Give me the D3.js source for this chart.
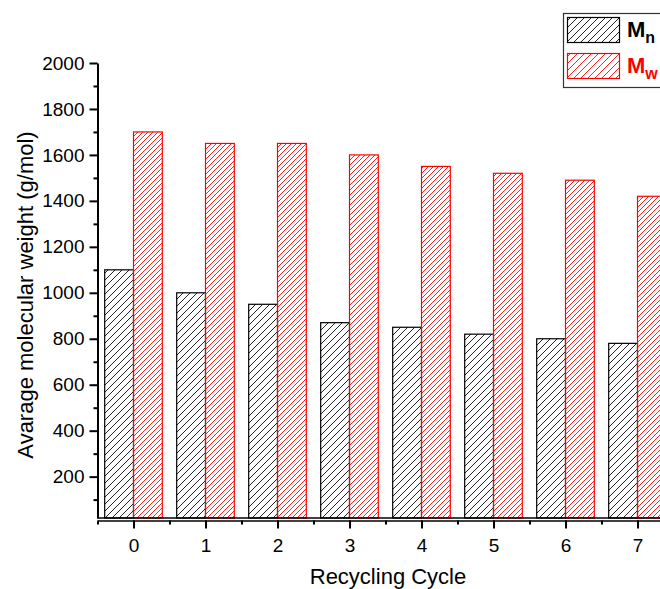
<!DOCTYPE html>
<html>
<head>
<meta charset="utf-8">
<script src="https://cdn.jsdelivr.net/npm/d3@7"></script>
<style>
  body { margin: 0; background: #fff; }
  svg { display: block; font-family: "Liberation Sans", Arial, sans-serif; }
  .axis text { font-size: 19px; fill: #000; }
  .axis path, .axis line { stroke: #000; }
</style>
</head>
<body>
<script>
// data
var cycles = [0, 1, 2, 3, 4, 5, 6, 7];
var mn = [1100, 1000, 950, 870, 850, 820, 800, 780];
var mw = [1700, 1650, 1650, 1600, 1550, 1520, 1490, 1420];
var yTicks = [200, 400, 600, 800, 1000, 1200, 1400, 1600, 1800, 2000];
var yMinor = [100, 300, 500, 700, 900, 1100, 1300, 1500, 1700, 1900];

var width = 660, height = 589;

var x = d3.scaleLinear()
    .domain([-0.5, 7.5])
    .range([97.5, 673.5]);

var y = d3.scaleLinear()
    .domain([20, 2000])
    .range([518, 63]);

var barW = (x(1) - x(0)) * 0.4;

var svg = d3.select("body").append("svg")
    .attr("width", width)
    .attr("height", height);

// hatch patterns
var defs = svg.append("defs");
function hatch(id, color, s) {
    var p = defs.append("pattern")
        .attr("id", id)
        .attr("patternUnits", "userSpaceOnUse")
        .attr("width", s)
        .attr("height", s);
    p.append("path")
        .attr("d", "M0," + s + " L" + s + ",0 M-1,1 L1,-1 M" + (s - 1) + "," + (s + 1) + " L" + (s + 1) + "," + (s - 1))
        .attr("stroke", color)
        .attr("stroke-width", 1);
}
hatch("hatchBlack", "#222", 7);
hatch("hatchRed", "#ff2020", 5);
hatch("hatchBlackL", "#222", 7);
hatch("hatchRedL", "#ff2020", 7);

// bars
svg.append("g").selectAll("rect")
    .data(mn)
    .enter().append("rect")
    .attr("x", function(d, i) { return x(cycles[i]) - barW; })
    .attr("y", function(d) { return y(d); })
    .attr("width", barW)
    .attr("height", function(d) { return y(20) - y(d); })
    .attr("fill", "url(#hatchBlack)")
    .attr("stroke", "#000")
    .attr("stroke-width", 1.2);

svg.append("g").selectAll("rect")
    .data(mw)
    .enter().append("rect")
    .attr("x", function(d, i) { return x(cycles[i]); })
    .attr("y", function(d) { return y(d); })
    .attr("width", barW)
    .attr("height", function(d) { return y(20) - y(d); })
    .attr("fill", "url(#hatchRed)")
    .attr("stroke", "#ff0000")
    .attr("stroke-width", 1.2);

// y axis
var yAxis = svg.append("g")
    .attr("class", "axis")
    .attr("transform", "translate(" + x(-0.5) + ",0)")
    .call(d3.axisLeft(y).tickValues(yTicks).tickFormat(d3.format("d")).tickSize(8).tickSizeOuter(0).tickPadding(5));
yAxis.select(".domain").attr("stroke-width", 2);
yAxis.selectAll(".tick line").attr("stroke-width", 2);

svg.append("g")
    .attr("class", "axis")
    .attr("transform", "translate(" + x(-0.5) + ",0)")
    .call(d3.axisLeft(y).tickValues(yMinor).tickSize(4).tickFormat(""))
    .call(function(g) { g.select(".domain").remove(); })
    .selectAll("line").attr("stroke-width", 2);

// x axis
var xAxis = svg.append("g")
    .attr("class", "axis")
    .attr("transform", "translate(0," + (y(20) + 2.5) + ")")
    .call(d3.axisBottom(x).tickValues(cycles).tickFormat(d3.format("d")).tickSize(8).tickSizeOuter(0).tickPadding(10));
xAxis.select(".domain").attr("stroke-width", 1.5);
xAxis.selectAll(".tick line").attr("stroke-width", 2);

svg.append("g")
    .attr("class", "axis")
    .attr("transform", "translate(0," + (y(20) + 2.5) + ")")
    .call(d3.axisBottom(x).tickValues(cycles.map(function(c) { return c - 0.5; }).concat([7.5])).tickSize(4).tickFormat(""))
    .call(function(g) { g.select(".domain").remove(); })
    .selectAll("line").attr("stroke-width", 2);

// baseline under the bars
svg.append("line")
    .attr("x1", x(-0.5)).attr("x2", x(7.5))
    .attr("y1", y(20)).attr("y2", y(20))
    .attr("stroke", "#000").attr("stroke-width", 1.5);

// axis titles
svg.append("text")
    .attr("x", 388)
    .attr("y", 584)
    .attr("text-anchor", "middle")
    .attr("font-size", 22)
    .text("Recycling Cycle");

svg.append("text")
    .attr("transform", "translate(33," + 295 + ") rotate(-90)")
    .attr("text-anchor", "middle")
    .attr("font-size", 22)
    .text("Avarage molecular weight (g/mol)");

// legend
var legend = svg.append("g");
legend.append("rect")
    .attr("x", 563.5).attr("y", 13.5)
    .attr("width", 120).attr("height", 74)
    .attr("fill", "#fff")
    .attr("stroke", "#333").attr("stroke-width", 1.2);

var legendItems = [
    { name: "M", sub: "n", fill: "url(#hatchBlackL)", stroke: "#000", text: "#000" },
    { name: "M", sub: "w", fill: "url(#hatchRedL)", stroke: "#ff0000", text: "#ff0000" }
];
legendItems.forEach(function(d, i) {
    var g = legend.append("g").attr("transform", "translate(0," + (i * 36) + ")");
    g.append("rect")
        .attr("x", 567.5).attr("y", 17.5)
        .attr("width", 52).attr("height", 25)
        .attr("fill", d.fill)
        .attr("stroke", d.stroke).attr("stroke-width", 1.2);
    var t = g.append("text")
        .attr("x", 627).attr("y", 37)
        .attr("font-size", 22)
        .attr("font-weight", "bold")
        .attr("fill", d.text);
    t.append("tspan").text(d.name);
    t.append("tspan").attr("dy", 6).attr("font-size", 16).text(d.sub);
});
</script>
</body>
</html>
